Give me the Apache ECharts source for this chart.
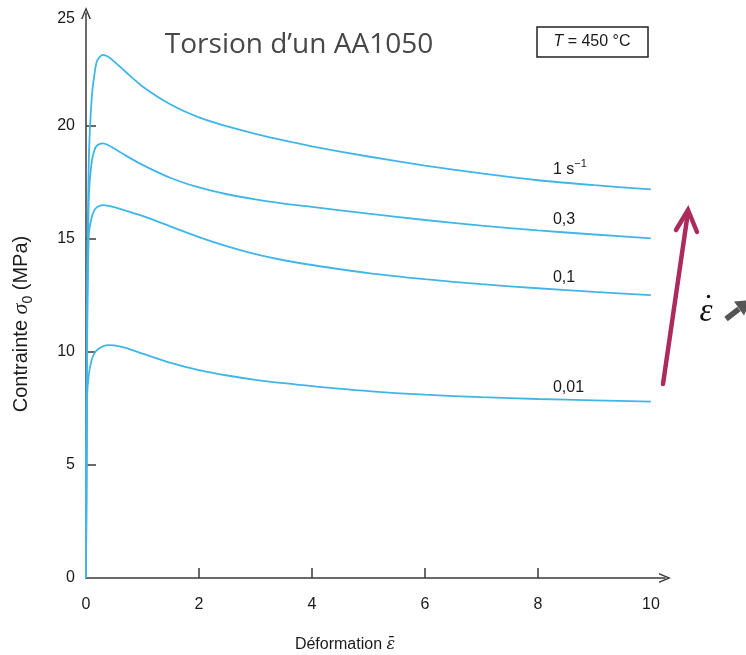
<!DOCTYPE html>
<html>
<head>
<meta charset="utf-8">
<title>Torsion d'un AA1050</title>
<script src="https://cdn.jsdelivr.net/npm/echarts@6.0.0/dist/echarts.min.js"></script>
<style>
  html, body { margin: 0; padding: 0; background: #fff; }
  #chart { width: 746px; height: 655px; }
</style>
</head>
<body>
<div id="chart"></div>
<script>
// Équivalent de déformation (abscisse commune aux quatre courbes)
const strain = [0, 0.02, 0.05, 0.1, 0.15, 0.2, 0.3, 0.4, 0.5, 0.7, 1.0, 1.5, 2, 2.5, 3, 3.5, 4, 5, 6, 7, 8, 9, 10];

// Contrainte d'écoulement (MPa) pour chaque vitesse de déformation, T = 450 °C
const stressRate1   = [0, 12.5, 18.5, 21.2, 22.3, 22.9, 23.15, 23.05, 22.85, 22.4, 21.75, 20.95, 20.38, 19.98, 19.65, 19.36, 19.1, 18.65, 18.25, 17.9, 17.6, 17.38, 17.2];
const stressRate03  = [0, 11.0, 16.8, 18.4, 18.94, 19.15, 19.23, 19.15, 19.0, 18.7, 18.28, 17.7, 17.28, 16.98, 16.75, 16.57, 16.42, 16.12, 15.84, 15.59, 15.38, 15.2, 15.03];
const stressRate01  = [0, 10.5, 15.2, 15.95, 16.28, 16.42, 16.5, 16.47, 16.41, 16.26, 16.02, 15.55, 15.08, 14.67, 14.33, 14.06, 13.85, 13.49, 13.22, 13.0, 12.82, 12.66, 12.52];
const stressRate001 = [0, 8.0, 9.0, 9.65, 9.95, 10.1, 10.25, 10.3, 10.29, 10.18, 9.93, 9.52, 9.2, 8.96, 8.77, 8.62, 8.49, 8.27, 8.11, 8.0, 7.92, 7.86, 7.8];

// Étiquettes des courbes (texte riche ECharts)
const rateLabels = ['1 s{sup|\u22121}', '0,3', '0,1', '0,01'];
const rateSeries = [stressRate1, stressRate03, stressRate01, stressRate001];

// Graduations
const xTickValues = [0, 2, 4, 6, 8, 10];
const yTickValues = [0, 5, 10, 15, 20, 25];

const AXIS_COLOR = '#3a3a3a';
const TEXT_COLOR = '#1a1a1a';
const CURVE_COLOR = '#40b6e8';
const SANS = 'Liberation Sans, Arial, sans-serif';
const LABEL_AT = 8; // abscisse où sont posées les étiquettes des courbes

const arrowHead = 'path://M0,12 L5,0 L10,12 L8.4,12 L5,3.6 L1.6,12 Z';

const chart = echarts.init(document.getElementById('chart'), null, { renderer: 'canvas' });

const series = rateSeries.map((vals, k) => {
  const labelIdx = strain.indexOf(LABEL_AT);
  return {
    type: 'line',
    data: strain.map((x, i) => [x, vals[i]]),
    showSymbol: false,
    smooth: 0.3,
    lineStyle: { color: CURVE_COLOR, width: 1.8 },
    itemStyle: { color: CURVE_COLOR },
    emphasis: { disabled: true },
    markPoint: {
      symbol: 'circle',
      symbolSize: 0,
      silent: true,
      animation: false,
      data: [{
        coord: [LABEL_AT, vals[labelIdx]],
        label: {
          show: true,
          position: 'top',
          align: 'left',
          distance: 5,
          offset: [15, 5],
          formatter: rateLabels[k],
          color: TEXT_COLOR,
          fontFamily: SANS,
          fontSize: 16,
          lineHeight: 22,
          rich: {
            sup: { fontSize: 11, lineHeight: 11, verticalAlign: 'top', color: TEXT_COLOR, fontFamily: SANS }
          }
        }
      }]
    }
  };
});

const option = {
  animation: false,
  backgroundColor: '#ffffff',
  grid: { left: 86, right: 81, top: 13, bottom: 77, containLabel: false },
  xAxis: {
    type: 'value',
    min: 0,
    max: 10.25,
    interval: 2,
    splitLine: { show: false },
    axisLine: {
      show: true,
      onZero: false,
      symbol: ['none', arrowHead],
      symbolSize: [10, 12],
      lineStyle: { color: AXIS_COLOR, width: 1.5 }
    },
    axisTick: {
      show: true,
      inside: true,
      length: 10,
      customValues: [2, 4, 6, 8],
      lineStyle: { color: AXIS_COLOR, width: 1.5 }
    },
    axisLabel: {
      customValues: xTickValues,
      margin: 19,
      color: TEXT_COLOR,
      fontSize: 16,
      fontFamily: SANS,
      formatter: v => (xTickValues.indexOf(v) >= 0 ? String(v) : '')
    }
  },
  yAxis: {
    type: 'value',
    min: 0,
    max: 25,
    interval: 5,
    splitLine: { show: false },
    axisLine: {
      show: true,
      onZero: false,
      symbol: ['none', arrowHead],
      symbolSize: [10, 12],
      lineStyle: { color: AXIS_COLOR, width: 1.5 }
    },
    axisTick: {
      show: true,
      inside: true,
      length: 10,
      customValues: [5, 10, 15, 20],
      lineStyle: { color: AXIS_COLOR, width: 1.5 }
    },
    axisLabel: {
      customValues: yTickValues,
      margin: 11,
      color: TEXT_COLOR,
      fontSize: 16,
      fontFamily: SANS,
      // le « 25 » est placé un peu sous la pointe de la flèche
      formatter: v => (v === 25 ? '{low|25}' : String(v)),
      rich: {
        low: { fontSize: 16, fontFamily: SANS, color: TEXT_COLOR, padding: [12, 0, 0, 0] }
      }
    }
  },
  series: series,
  graphic: [
    // Titre
    {
      type: 'text', x: 299, y: 45, silent: true,
      style: {
        text: 'Torsion d\u2019un AA1050',
        align: 'center', verticalAlign: 'middle',
        fontFamily: 'Open Sans, Lato, sans-serif', fontSize: 28,
        fill: '#474747'
      }
    },
    // Cadre de température
    {
      type: 'rect', silent: true,
      shape: { x: 537, y: 27, width: 111, height: 30 },
      style: { fill: '#fff', stroke: '#222', lineWidth: 1.5 }
    },
    {
      type: 'text', x: 592, y: 42, silent: true,
      style: {
        text: '{i|T} = 450 \u00B0C',
        align: 'center', verticalAlign: 'middle',
        fontFamily: SANS, fontSize: 16,
        fill: TEXT_COLOR,
        rich: { i: { fontStyle: 'italic', fontFamily: SANS, fontSize: 16, fill: TEXT_COLOR } }
      }
    },
    // Titre de l'axe des ordonnées
    {
      type: 'text', x: 21, y: 324, rotation: Math.PI / 2, silent: true,
      style: {
        text: 'Contrainte {s|\u03C3}{sub|0} (MPa)',
        align: 'center', verticalAlign: 'middle',
        fontFamily: SANS, fontSize: 20, lineHeight: 28,
        fill: TEXT_COLOR,
        rich: {
          s: { fontStyle: 'italic', fontFamily: 'Liberation Serif, serif', fontSize: 22, lineHeight: 28, fill: TEXT_COLOR },
          sub: { fontSize: 14, lineHeight: 14, verticalAlign: 'bottom', fontFamily: SANS, fill: TEXT_COLOR }
        }
      }
    },
    // Titre de l'axe des abscisses
    {
      type: 'text', x: 345, y: 645, silent: true,
      style: {
        text: 'D\u00E9formation {e|\u03B5\u0304}',
        align: 'center', verticalAlign: 'middle',
        fontFamily: SANS, fontSize: 16,
        fill: TEXT_COLOR,
        rich: { e: { fontStyle: 'italic', fontFamily: 'DejaVu Serif, serif', fontSize: 16, fill: TEXT_COLOR } }
      }
    },
    // Flèche : vitesse de déformation croissante
    {
      type: 'line', silent: true,
      shape: { x1: 663, y1: 384, x2: 688, y2: 212 },
      style: { stroke: '#ad2a5d', lineWidth: 4.5, lineCap: 'round' }
    },
    {
      type: 'polyline', silent: true,
      shape: { points: [[676, 230], [688, 210], [697, 232]] },
      style: { stroke: '#ad2a5d', lineWidth: 4.5, lineCap: 'round', lineJoin: 'miter', fill: null }
    },
    // ε̇ suivi d'une flèche grise
    {
      type: 'text', x: 706, y: 312, silent: true,
      style: {
        text: '\u03B5',
        align: 'center', verticalAlign: 'middle',
        fontFamily: 'Liberation Serif, serif', fontStyle: 'italic', fontSize: 33,
        fill: '#111'
      }
    },
    {
      type: 'circle', silent: true,
      shape: { cx: 708.5, cy: 296.5, r: 1.7 },
      style: { fill: '#111' }
    },
    {
      type: 'line', silent: true,
      shape: { x1: 726, y1: 319, x2: 739, y2: 309 },
      style: { stroke: '#555', lineWidth: 5.5 }
    },
    {
      type: 'polygon', silent: true,
      shape: { points: [[751, 300], [744, 315.5], [734, 301.5]] },
      style: { fill: '#555' }
    }
  ]
};

chart.setOption(option);
</script>
</body>
</html>
